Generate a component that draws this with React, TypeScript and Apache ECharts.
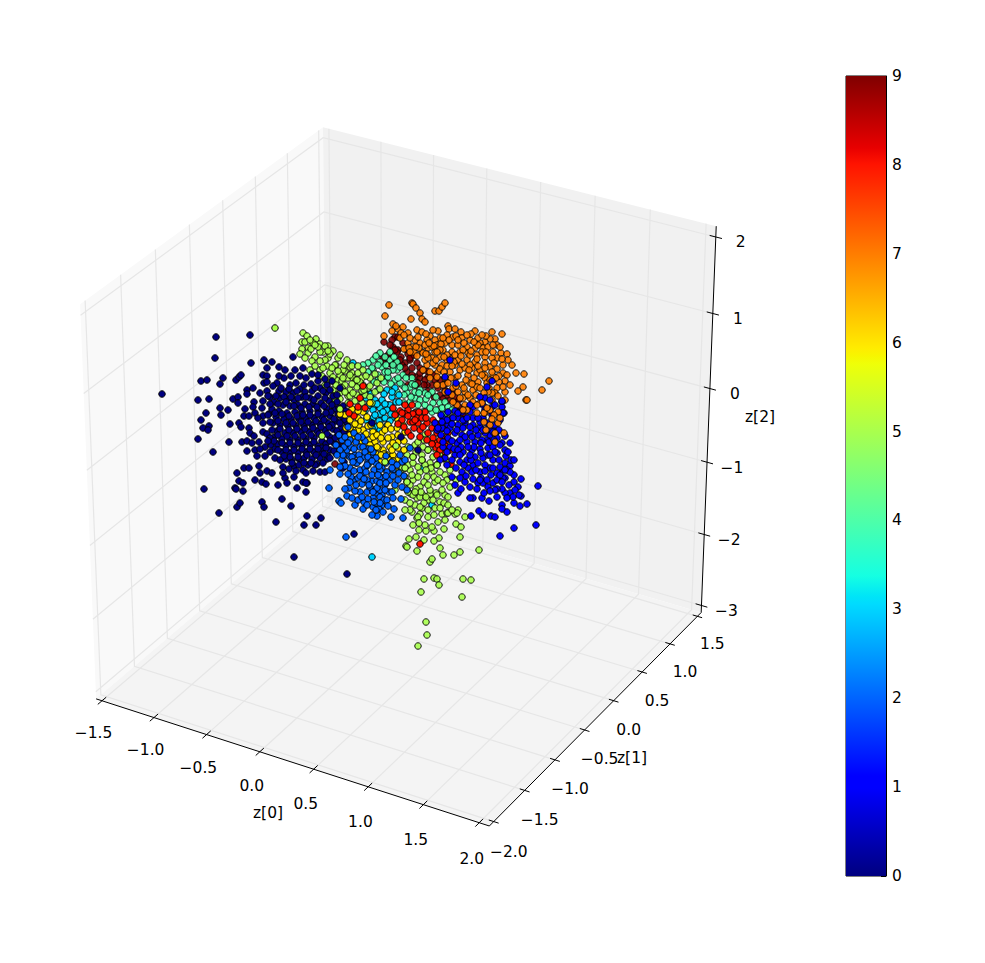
import React, { useEffect, useRef } from "react";
import * as echarts from "echarts";

// Points are [screen x, screen y].
type P = [number, number];
const class9: P[] = [[384,342],[395,337],[398,337],[393,347],[403,343],[401,357],[408,354],[387,358],[383,358],[417,363],[412,368],[405,363],[423,370],[416,377],[407,372],[420,378],[428,377],[432,385],[440,380],[438,388],[408,385],[416,385],[427,385],[440,395],[455,403],[459,407],[455,397],[388,372],[383,363],[402,365],[395,362],[420,368],[335,464],[340,443],[350,430],[398,350],[392,340],[410,360],[425,380],[445,390],[450,400],
[390,345],[397,352],[406,349],[410,358],[414,355],[400,360],[392,365],[420,373],[412,375],[427,371],[434,375],[424,385],[435,380],[445,384],[447,395],[452,392],[443,399],[418,383],[405,368],[395,350],[388,355],[428,391],[434,397],[459,400],[463,414],[458,412]];
const class7: P[] = [[389,305],[385,316],[412,303],[413,304],[416,308],[420,313],[411,319],[422,319],[425,322],[435,311],[439,311],[442,307],[445,303],[393,324],[384,336],[392,331],[398,329],[403,327],[408,333],[417,330],[422,332],[430,336],[438,331],[448,326],[449,329],[455,329],[461,332],[475,331],[492,332],[502,334],[495,339],[490,339],[485,342],[480,343],[470,340],[462,338],[453,337],[447,335],[440,338],[435,340],[427,340],[420,343],[415,340],[408,343],[413,347],[422,352],[428,348],[437,345],[445,343],[452,345],[458,345],[467,347],[475,348],[483,348],[488,347],[501,353],[507,354],[497,358],[485,357],[477,355],[468,353],[460,352],[452,352],[443,350],[435,352],[428,355],[423,353],[432,358],[440,357],[450,358],[458,360],[467,360],[475,362],[485,363],[490,367],[503,365],[497,369],[503,373],[507,375],[516,373],[524,374],[549,381],[542,390],[523,387],[518,391],[526,400],[505,381],[505,392],[499,382],[497,388],[495,393],[503,387],[485,375],[477,373],[468,375],[460,370],[450,372],[442,365],[435,365],[427,365],[423,370],[465,368],[472,368],[480,370],[485,378],[478,382],[470,383],[462,385],[453,388],[443,385],[458,392],[465,392],[473,390],[477,387],[489,388],[492,393],[465,405],[457,405],[480,403],[437,385],[527,400],[396,326],[401,333],[410,338],[425,345],[432,347],[447,360],[455,365],[470,355],[482,352],[492,358],[438,372],[445,378],[455,378],[430,372],[470,398],[463,398],[487,383],[493,376],
[400,338],[404,349],[414,352],[419,348],[426,334],[433,330],[441,344],[449,340],[456,336],[464,343],[471,334],[478,338],[486,336],[497,345],[493,352],[478,345],[471,351],[463,350],[455,355],[447,355],[440,350],[434,346],[429,343],[418,337],[409,348],[404,335],[417,356],[425,360],[433,363],[440,369],[447,366],[454,362],[462,364],[470,365],[478,366],[485,368],[492,372],[499,376],[490,380],[482,375],[474,378],[466,380],[458,376],[451,378],[444,372],[437,377],[430,378],[448,383],[456,386],[464,388],[472,384],[480,388],[488,392],[496,378],[476,395],[468,395],[460,398],[452,395],[445,392],[484,393],[492,400],[498,396],[505,400],[510,385],[512,365],[493,345],[500,347],[508,360],[473,402],[428,358],[436,360],[444,357],[452,366],[461,356],[469,370],[477,359],[486,352],[494,363],[502,359],[416,347],[410,352],[443,338],[458,340],[467,335],[482,335],[474,342],[437,352],[426,354]];
const class4: P[] = [[390,352],[380,353],[373,360],[382,367],[390,360],[397,370],[385,372],[403,375],[395,380],[412,378],[407,393],[402,385],[425,393],[432,392],[415,398],[420,400],[433,403],[440,403],[445,402],[425,405],[438,410],[447,413],[432,412],[387,378],[378,375],[373,370],[393,370],[410,387],[368,363],[397,362],[400,383],[388,377],[372,368],[380,362],[415,392],[426,399],[412,384],[392,390],[404,395],[418,405],
[376,356],[385,357],[394,357],[378,365],[386,365],[393,365],[400,367],[388,372],[378,380],[384,382],[391,384],[398,378],[406,378],[415,385],[420,390],[428,395],[436,397],[442,408],[448,407],[430,408],[423,412],[416,412],[410,402],[405,388],[397,392],[404,403],[411,397],[419,393],[374,382],[368,372],[363,365],[436,410],[444,415],[452,410]];
const class3: P[] = [[353,363],[368,391],[378,390],[387,390],[373,400],[382,400],[380,408],[373,408],[388,405],[376,427],[387,425],[373,418],[381,420],[395,388],[375,400],[392,397],[390,405],[393,417],[385,418],[373,410],[380,414],[387,410],[368,465],[423,468],[432,505],[372,557],[399,395],[366,398],
[360,385],[364,392],[371,394],[384,394],[392,392],[396,402],[385,404],[377,404],[369,405],[365,411],[375,415],[383,412],[391,414],[379,421],[370,422],[390,421],[399,402],[380,430],[372,428],[366,420]];
const class5: P[] = [[303,333],[307,336],[316,339],[302,342],[313,343],[320,344],[308,348],[302,349],[323,352],[333,351],[320,352],[300,354],[308,353],[315,357],[328,358],[336,365],[347,360],[327,366],[345,371],[320,370],[330,373],[322,376],[337,380],[342,381],[348,378],[333,390],[340,393],[348,396],[328,346],[352,373],[358,373],[363,370],[370,378],[343,370],[335,365],[345,385],[350,390],[357,387],[363,385],[365,395],[357,395],[370,397],[377,383],[362,403],[353,378],[338,358],[311,349],[325,360],[332,368],[340,375],[350,367],[356,380],[362,378],[352,384],[342,388],[368,388],[375,392],
[305,342],[310,340],[318,347],[325,346],[330,354],[315,345],[305,358],[312,361],[320,361],[328,351],[340,355],[344,365],[352,366],[358,366],[366,376],[360,382],[350,375],[338,371],[329,380],[336,385],[325,385],[343,378],[370,386],[375,374],[381,378],[380,389],[372,403],[355,401],[348,403],[340,399],[335,399],[350,396],[362,391],[315,366],[323,368],[310,370],[333,377],[345,392],[353,393],[357,380],[364,390],
[426,622],[427,635],[418,646],[421,592],[424,579],[434,578],[437,579],[439,585],[463,579],[471,580],[462,597],[430,562],[432,559],[443,555],[440,548],[454,555],[460,552],[479,550],[460,537],[439,538],[434,541],[424,540],[417,551],[406,546],[407,547],[409,539],[416,537],[419,530],[426,531],[434,531],[444,529],[432,527],[438,522],[456,524],[461,527],[442,514],[447,513],[455,514],[458,510],[465,517],[428,517],[420,514],[417,518],[412,512],[410,510],[422,508],[415,505],[435,508],[428,500],[440,502],[444,503],[423,495],[411,494],[417,498],[433,500],[424,503],[445,495],[436,493],[430,494],
[395,490],[405,468],[413,457],[422,460],[428,450],[433,457],[420,472],[427,477],[413,480],[407,482],[432,472],[437,465],[430,463],[420,487],[430,490],[435,482],[442,490],[445,475],[448,513],[457,513],[413,495],[420,497],[418,517],[415,445],[423,447],[407,455],[400,472],[410,470],[440,455],[447,462],
[408,465],[413,463],[418,467],[425,465],[431,468],[426,470],[418,477],[412,475],[405,477],[410,485],[416,489],[424,482],[428,485],[434,477],[440,472],[438,480],[447,480],[450,487],[443,483],[437,495],[426,497],[421,492],[415,492],[408,492],[405,500],[410,503],[420,507],[428,510],[434,515],[440,508],[448,505],[452,510],[445,520],[425,525],[419,523],[413,525],[405,510],[422,455],[416,452],[408,447],[402,467],[436,450],[442,445],[450,470],[456,480],[425,435],[432,442],[424,440],[418,442],[448,497]];
const class0: P[] = [[216,337],[250,335],[215,358],[251,363],[264,360],[272,362],[279,367],[293,357],[162,394],[201,381],[207,380],[223,378],[220,384],[236,380],[239,377],[241,375],[198,400],[209,399],[233,399],[238,397],[238,403],[247,390],[253,388],[247,394],[260,393],[263,375],[267,376],[267,368],[264,383],[267,382],[267,391],[270,397],[263,401],[254,402],[253,407],[245,409],[220,408],[228,410],[206,413],[221,415],[201,420],[203,428],[209,426],[208,430],[198,439],[230,424],[239,423],[241,427],[244,416],[249,416],[255,413],[263,416],[269,414],[249,428],[250,433],[263,423],[263,432],[267,434],[229,442],[242,442],[247,441],[252,443],[259,442],[247,451],[213,452],[255,450],[257,456],[265,456],[265,447],[271,445],[275,449],[275,458],[283,467],[292,460],[299,459],[244,468],[249,468],[259,466],[237,473],[239,481],[243,483],[255,480],[260,473],[267,471],[262,482],[266,484],[278,485],[285,478],[287,483],[294,477],[303,482],[307,483],[303,470],[308,465],[320,472],[325,472],[204,489],[235,488],[219,513],[237,507],[240,503],[236,489],[243,491],[262,502],[264,507],[282,499],[291,506],[276,522],[307,516],[321,518],[304,525],[316,525],[294,557],[347,574],[354,534],[306,492],[297,488],[306,483],[272,473],[317,464],[327,459],[343,468],[344,462],
[295,370],[300,376],[306,378],[296,383],[311,384],[318,381],[290,385],[284,378],[277,383],[300,389],[286,392],[279,391],[293,393],[305,392],[312,391],[320,388],[327,385],[333,396],[326,393],[318,396],[310,398],[302,397],[294,400],[287,399],[280,398],[274,402],[283,405],[290,406],[298,405],[305,404],[313,404],[321,403],[329,401],[337,402],[343,406],[335,409],[327,409],[318,411],[310,411],[302,412],[295,412],[287,413],[279,411],[272,409],[276,417],[284,419],[291,419],[299,419],[306,418],[314,418],[322,417],[330,416],[338,414],[344,420],[336,421],[328,423],[320,424],[312,425],[304,426],[296,426],[288,426],[280,425],[273,423],[277,431],[285,433],[293,433],[301,432],[309,432],[317,431],[325,430],[333,429],[341,428],[338,435],[330,437],[322,441],[314,438],[306,439],[298,440],[290,440],[282,439],[274,437],[278,444],[286,446],[294,447],[302,446],[310,445],[318,446],[326,444],[334,443],[330,450],[322,452],[314,452],[306,452],[298,453],[290,453],[282,452],[286,459],[294,466],[304,458],[312,459],[320,458],[328,456],[336,453],[315,465],[299,465],
[281,388],[289,389],[297,391],[304,385],[315,388],[323,391],[330,390],[337,395],[276,396],[284,397],[291,397],[298,398],[306,397],[314,400],[325,398],[332,405],[339,408],[346,411],[270,404],[278,404],[286,402],[294,406],[301,408],[309,407],[317,407],[324,406],[331,412],[341,416],[268,415],[275,413],[282,414],[289,416],[297,416],[303,415],[310,415],[318,414],[326,413],[334,419],[347,425],[270,422],[278,421],[286,423],[293,423],[301,422],[308,422],[316,421],[324,420],[332,425],[340,423],[272,430],[280,429],[289,430],[297,429],[305,429],[313,428],[321,427],[329,427],[337,431],[344,432],[270,438],[278,435],[287,436],[295,436],[303,436],[311,435],[319,434],[327,434],[335,438],[342,440],[274,441],[282,443],[290,443],[298,443],[306,442],[314,442],[322,448],[330,441],[338,446],[278,450],[286,450],[294,450],[302,449],[310,449],[318,449],[326,448],[334,451],[290,457],[298,457],[307,455],[316,455],[324,454],[330,458],[284,456],[292,463],[311,463],[323,463],[280,460],[304,463],[270,452],[283,473],[289,469],[296,471],[313,471],[306,473],[285,370],[291,376],[303,368],[312,374],[318,375],[325,379],[332,381],[340,388],[279,376],[273,386],[268,396],[262,408],[258,418],[254,436],[268,441],[260,449]];
const class6: P[] = [[345,415],[363,412],[358,418],[363,430],[350,435],[369,440],[375,442],[383,442],[380,462],[387,455],[398,442],[398,448],[398,460],[398,420],[397,428],[388,425],[373,432],[382,433],[358,430],[353,430],[367,417],[373,437],[383,450],[378,448],[390,447],[370,403],[393,455],[373,457],[395,469],[377,447],[384,454],[392,450],[340,414],[359,425],[368,426],[380,425],[392,437],[405,432],
[350,420],[346,428],[355,424],[361,421],[366,434],[371,425],[377,435],[385,430],[391,429],[388,438],[381,438],[398,435],[403,425],[396,414],[355,436],[362,443],[350,428],[376,454],[389,460],[381,455],[404,450],[404,441],[393,443],[370,445],[369,452],[393,461],[358,411],[352,409]];
const class8: P[] = [[358,407],[400,411],[408,410],[415,413],[410,422],[418,423],[427,423],[432,428],[437,433],[442,437],[445,452],[437,443],[442,447],[428,433],[420,430],[408,432],[433,438],[447,422],[405,414],[413,414],[417,418],[422,418],[413,422],[436,448],[438,445],[445,445],[451,464],[363,386],[402,420],[420,544],[350,404],[425,412],[393,408],[440,425],
[395,415],[402,413],[408,416],[415,420],[423,427],[414,428],[404,427],[426,418],[433,420],[437,424],[443,428],[448,433],[440,440],[447,440],[432,444],[440,450],[427,440],[420,437],[411,436],[398,424],[405,405],[412,405],[419,412],[450,450],[444,458],[437,455],[365,408],[354,416],[360,398],[349,413]];
const class2: P[] = [[329,488],[340,474],[339,501],[341,503],[355,505],[363,509],[347,496],[364,502],[360,492],[367,492],[373,507],[377,516],[382,505],[379,509],[394,509],[391,517],[346,537],[377,493],[382,495],[373,498],[349,488],[354,480],[351,477],[363,473],[372,481],[377,481],[383,478],[390,480],[375,490],[380,490],[356,463],[360,470],[365,468],[374,470],[382,468],[347,455],[350,457],[355,455],[363,457],[373,457],[368,462],[403,518],[401,499],[380,497],[350,468],[357,463],[367,465],[352,457],[347,450],[342,440],[350,440],[360,447],[373,452],[380,477],[387,472],[393,470],[385,485],[377,488],[367,480],[358,478],[344,447],[339,435],[348,427],[356,442],[368,449],[376,463],[386,463],[392,462],[389,492],[370,487],[362,484],[402,462],[376,503],[368,499],[355,491],[342,460],[351,447],[365,441],[362,437],[384,500],
[345,437],[354,433],[358,437],[363,447],[348,443],[343,455],[354,449],[359,455],[365,452],[371,449],[376,458],[380,470],[386,476],[393,476],[399,473],[395,485],[392,492],[385,490],[380,483],[372,475],[366,472],[360,476],[354,471],[348,474],[345,466],[340,467],[350,482],[356,485],[364,479],[369,485],[373,492],[380,503],[387,500],[374,502],[367,505],[358,500],[352,498],[345,489],[393,498],[388,506],[383,512],[376,510],[372,515],[397,465],[404,476],[402,487],[407,490],[386,456],[379,466],[368,457],[360,460],[353,462],[392,468],[340,450],[336,445],[337,455],[330,470],[362,497],[372,461],[386,483],[378,475],[398,480],[405,460],[410,448],[400,455]];
const class1: P[] = [[538,486],[536,525],[514,528],[500,536],[527,504],[520,506],[521,479],[514,475],[518,487],[521,496],[514,503],[510,493],[505,493],[502,489],[497,489],[502,505],[507,512],[502,509],[489,501],[482,498],[473,498],[470,498],[479,511],[483,515],[491,516],[495,517],[471,516],[458,493],[461,489],[465,482],[470,487],[478,483],[483,483],[488,487],[493,483],[497,480],[505,478],[503,470],[505,463],[510,466],[500,467],[507,470],[452,477],[506,456],[505,450],[502,443],[496,433],[504,413],[502,402],[502,407],[492,407],[483,418],[497,453],[493,460],[490,468],[485,465],[480,472],[473,465],[468,468],[462,472],[467,460],[460,462],[455,455],[463,452],[472,450],[480,449],[488,448],[493,447],[487,440],[478,435],[470,433],[462,435],[455,433],[448,438],[450,447],[445,458],[457,443],[467,442],[475,442],[482,440],[490,435],[485,433],[480,427],[473,425],[465,423],[458,425],[448,425],[442,428],[435,423],[443,418],[452,418],[458,418],[465,420],[473,418],[480,422],[487,423],[493,427],[497,438],[475,457],[483,458],[450,428],[492,381],[487,387],[485,398],[502,401],[503,413],[495,425],[456,383],[448,392],[450,360],[445,377],[480,397],[483,405],[473,407],[463,420],[453,418],[447,420],[442,422],
[447,431],[441,435],[437,430],[452,424],[457,430],[463,428],[470,427],[476,430],[483,430],[489,429],[493,432],[499,430],[505,436],[500,445],[495,452],[488,455],[481,453],[474,447],[468,447],[461,447],[454,449],[447,452],[452,460],[456,468],[464,465],[471,460],[478,463],[485,471],[491,475],[497,473],[503,478],[510,472],[514,482],[509,485],[502,482],[495,490],[490,491],[484,493],[477,489],[473,479],[466,476],[460,478],[455,485],[472,472],[481,478],[487,480],[499,460],[505,470],[511,460],[500,475],[493,468],[476,470],[470,455],[458,450],[465,437],[472,437],[481,443],[489,442],[494,440],[460,440],[452,441],[443,447],[441,415],[438,428],[448,412],[455,411],[462,412],[470,412],[478,418],[467,418],[458,413],[470,405],[490,400],[495,405],[485,410],[492,415],[500,420],[510,443],[508,452],[514,460],[519,495],[513,497],[507,498],[497,497],[515,490],[460,455],[480,480],[490,455],[443,442],[440,460],[447,465]];
const strayGreen: P[] = [[275,328],[322,436],[340,409],[413,457],[422,460],[405,468],[428,450],[407,482],[437,465],[396,446],[385,462]];
const strayOrange: P[] = [[485,413],[490,425],[498,412],[467,410],[477,413],[463,410],[453,402],[504,433],[495,442],[498,423],[484,413],[490,410],[482,403],[477,405],[487,408],[494,415],[500,418],[492,419],[484,422],[486,430],[495,433]];
const strayNavy: P[] = [[418,450],[401,437],[372,423]];

const colorbarTicks = [0, 1, 2, 3, 4, 5, 6, 7, 8, 9];
const xTicks = ["−1.5", "−1.0", "−0.5", "0.0", "0.5", "1.0", "1.5", "2.0"];
const yTicks = ["−2.0", "−1.5", "−1.0", "−0.5", "0.0", "0.5", "1.0", "1.5"];
const zTicks = ["−3", "−2", "−1", "0", "1", "2"];
const xVals = [-1.5, -1, -0.5, 0, 0.5, 1, 1.5, 2];
const yVals = [-2, -1.5, -1, -0.5, 0, 0.5, 1, 1.5];
const zVals = [-3, -2, -1, 0, 1, 2];
const xLim: [number, number] = [-1.557, 2.09];
const yLim: [number, number] = [-2.07, 1.57];
const zLim: [number, number] = [-3.1, 2.14];

const FONT = "DejaVu Sans";
const FONT_SIZE = 15.5;

function jet(t: number): string {
  const seg = (k: number[][]) => {
    for (let i = 1; i < k.length; i++) {
      if (t <= k[i][0]) {
        const f = (t - k[i - 1][0]) / (k[i][0] - k[i - 1][0]);
        return k[i - 1][1] + f * (k[i][1] - k[i - 1][1]);
      }
    }
    return k[k.length - 1][1];
  };
  const r = seg([[0, 0], [0.35, 0], [0.66, 1], [0.89, 1], [1, 0.5]]);
  const g = seg([[0, 0], [0.125, 0], [0.375, 1], [0.64, 1], [0.91, 0], [1, 0]]);
  const b = seg([[0, 0.5], [0.11, 1], [0.34, 1], [0.65, 0], [1, 0]]);
  return `rgb(${Math.round(r * 255)},${Math.round(g * 255)},${Math.round(b * 255)})`;
}

// mplot3d view: elev 30, azim -60, dist 10, fitted to the box corners on the page
const el = (30 * Math.PI) / 180;
const az = (-60 * Math.PI) / 180;
const nv = [Math.cos(el) * Math.cos(az), Math.cos(el) * Math.sin(az), Math.sin(el)];
const E = [0.5 + 10 * nv[0], 0.5 + 10 * nv[1], 0.5 + 10 * nv[2]];
const cross = (a: number[], b: number[]) => [a[1] * b[2] - a[2] * b[1], a[2] * b[0] - a[0] * b[2], a[0] * b[1] - a[1] * b[0]];
const uRaw = cross([0, 0, 1], nv);
const uLen = Math.hypot(uRaw[0], uRaw[1], uRaw[2]);
const uv = uRaw.map((c) => c / uLen);
const vv = cross(nv, uv);
const dot = (a: number[], b: number[]) => a[0] * b[0] + a[1] * b[1] + a[2] * b[2];
function rawProj(p: number[]): [number, number] {
  const d = [p[0] - E[0], p[1] - E[1], p[2] - E[2]];
  const ze = -dot(nv, d);
  return [dot(uv, d) / ze, dot(vv, d) / ze];
}
const corners: [number[], [number, number]][] = [
  [[0, 0, 0], [96, 699]], [[1, 0, 0], [490, 826]], [[1, 1, 0], [701, 613]],
  [[1, 1, 1], [716, 227]], [[0, 1, 1], [323, 128]], [[0, 0, 1], [80, 302]],
];
function fit(i: 0 | 1) {
  const xs = corners.map((c) => rawProj(c[0])[i]);
  const ys = corners.map((c) => c[1][i]);
  const mx = xs.reduce((a, b) => a + b, 0) / xs.length;
  const my = ys.reduce((a, b) => a + b, 0) / ys.length;
  let n = 0, d = 0;
  xs.forEach((x, k) => { n += (x - mx) * (ys[k] - my); d += (x - mx) ** 2; });
  const s = n / d;
  return [s, my - s * mx];
}
const fx = fit(0);
const fy = fit(1);
function P3(nx: number, ny: number, nz: number): number[] {
  const r = rawProj([nx, ny, nz]);
  return [fx[0] * r[0] + fx[1], fy[0] * r[1] + fy[1]];
}
const nX = (v: number) => (v - xLim[0]) / (xLim[1] - xLim[0]);
const nY = (v: number) => (v - yLim[0]) / (yLim[1] - yLim[0]);
const nZ = (v: number) => (v - zLim[0]) / (zLim[1] - zLim[0]);

function boxGraphics() {
  const out: any[] = [];
  const pane = (pts: number[][], fill: string) => out.push({ type: "polygon", silent: true, z: 0, shape: { points: pts }, style: { fill, stroke: "none" } });
  const line = (pts: number[][], stroke: string, w: number, z = 1) => out.push({ type: "polyline", silent: true, z, shape: { points: pts }, style: { fill: "none", stroke, lineWidth: w } });
  const label = (text: string, x: number, y: number) => out.push({ type: "text", silent: true, z: 3, x, y, style: { text, fill: "#000", font: `${FONT_SIZE}px "${FONT}"`, align: "center", verticalAlign: "middle" } });

  pane([P3(0, 0, 0), P3(0, 1, 0), P3(0, 1, 1), P3(0, 0, 1)], "#f9f9f9");
  pane([P3(0, 1, 0), P3(1, 1, 0), P3(1, 1, 1), P3(0, 1, 1)], "#f1f1f1");
  pane([P3(0, 0, 0), P3(1, 0, 0), P3(1, 1, 0), P3(0, 1, 0)], "#f4f4f4");

  const grid = "#e6e6e6";
  xVals.forEach((v, i) => {
    const n = nX(v);
    line([P3(n, 0, 0), P3(n, 1, 0), P3(n, 1, 1)], grid, 1.2);
    line([P3(n, -0.017, 0), P3(n, 0.017, 0)], "#000", 1, 2);
    const t = P3(n, 0, 0);
    label(xTicks[i], t[0] - 8.5 + i * 0.15, t[1] + 32 + i * 0.6);
  });
  yVals.forEach((v, i) => {
    const n = nY(v);
    line([P3(1, n, 0), P3(0, n, 0), P3(0, n, 1)], grid, 1.2);
    line([P3(1.012, n, 0), P3(0.988, n, 0)], "#000", 1, 2);
    const t = P3(1, n, 0);
    label(yTicks[i], t[0] + 15, t[1] + 28 + (7 - i) * 0.3);
  });
  zVals.forEach((v, i) => {
    const n = nZ(v);
    line([P3(0, 0, n), P3(0, 1, n), P3(1, 1, n)], grid, 1.2);
    line([P3(0.985, 1, n), P3(1.015, 1, n)], "#000", 1, 2);
    const t = P3(1, 1, n);
    label(zTicks[i], t[0] + 25, t[1] + 5.5);
  });
  line([P3(0, 0, 0), P3(1, 0, 0), P3(1, 1, 0), P3(1, 1, 1)], "#000", 1, 2);
  label("z[0]", 268, 813);
  label("z[1]", 632, 758);
  label("z[2]", 760, 417);
  return out;
}

const scatter = (name: string, data: P[], cls: number, opacity: number) => ({
  name,
  type: "scatter",
  xAxisIndex: 0,
  yAxisIndex: 0,
  data,
  symbolSize: 6.5,
  itemStyle: { color: jet(cls / 9), borderColor: "#000", borderWidth: 1, opacity },
});

export default function App() {
  const ref = useRef<HTMLDivElement>(null);
  useEffect(() => {
    const chart = echarts.init(ref.current!, undefined, { renderer: "svg" });
    const stops = [0, 0.11, 0.125, 0.25, 0.34, 0.35, 0.375, 0.5, 0.64, 0.65, 0.66, 0.75, 0.89, 0.91, 1];
    chart.setOption({
      animation: false,
      backgroundColor: "#fff",
      graphic: { elements: boxGraphics() },
      grid: [
        { left: 0, top: 0, width: 985, height: 963, show: false },
        { left: 846, top: 76, width: 40, height: 800, show: true, borderColor: "#000", borderWidth: 1, backgroundColor: "transparent" },
      ],
      xAxis: [
        { gridIndex: 0, type: "value", min: 0, max: 985, show: false },
        { gridIndex: 1, type: "category", data: ["colorbar"], show: false },
      ],
      yAxis: [
        { gridIndex: 0, type: "value", min: 0, max: 963, inverse: true, show: false },
        {
          gridIndex: 1, type: "value", min: 0, max: 9, interval: 1, position: "right",
          splitLine: { show: false },
          axisLine: { show: true, lineStyle: { color: "#000", width: 1 } },
          axisTick: { show: true, inside: true, length: 5, lineStyle: { color: "#000", width: 1 } },
          axisLabel: { color: "#000", fontFamily: FONT, fontSize: FONT_SIZE, margin: 6, formatter: (v: number) => (colorbarTicks.includes(v) ? String(v) : "") },
        },
      ],
      series: [
        {
          name: "colorbar", type: "bar", xAxisIndex: 1, yAxisIndex: 1, data: [9], barWidth: "100%", z: 1, silent: true,
          itemStyle: {
            color: new echarts.graphic.LinearGradient(0, 1, 0, 0, stops.map((s) => ({ offset: s, color: jet(s) }))),
          },
        },
        scatter("9", class9, 9, 0.9),
        scatter("7", class7, 7, 0.9),
        scatter("4", class4, 4, 0.9),
        scatter("3", class3, 3, 1),
        scatter("5", class5, 5, 0.9),
        scatter("0", class0, 0, 1),
        scatter("6", class6, 6, 1),
        scatter("8", class8, 8, 1),
        scatter("2", class2, 2, 1),
        scatter("1", class1, 1, 1),
        scatter("5 front", strayGreen, 5, 1),
        scatter("7 front", strayOrange, 7, 0.95),
        scatter("0 front", strayNavy, 0, 1),
      ],
    });
    return () => chart.dispose();
  }, []);
  return <div ref={ref} style={{ position: "fixed", left: 0, top: 0, width: 985, height: 963 }} />;
}
